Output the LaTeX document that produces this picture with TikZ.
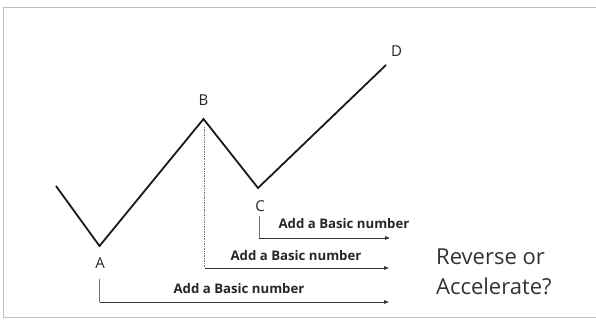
\documentclass[tikz,border=0pt]{standalone}
\usepackage{fontspec}
\setmainfont{Open Sans}
\usetikzlibrary{arrows.meta}
\begin{document}
\begin{tikzpicture}[x=1pt,y=-1pt,
  zig/.style={line width=1.8pt,line join=miter,black!90},
  tick/.style={line width=0.7pt,black!55},
  arr/.style={line width=1pt,black!80,-{Triangle[length=5pt,width=3.5pt]}},
  ptlabel/.style={font=\fontsize{15}{17}\selectfont,text=black!85,inner sep=0pt},
  addlabel/.style={font=\bfseries\fontsize{13.2}{15}\selectfont,text=black!85,inner sep=0pt},
  bigtext/.style={font=\fontsize{22}{27}\selectfont,text=black!80,inner sep=0pt,align=left}]
\useasboundingbox (0,0) rectangle (596,320);
\draw[black!25,line width=1pt] (596,7.5) -- (3.5,7.5) -- (3.5,317.5) -- (596,317.5);
% points
\coordinate (S) at (56,186);
\coordinate (A) at (99.5,246);
\coordinate (B) at (203.5,119);
\coordinate (C) at (258,188);
\coordinate (D) at (386,65);
\draw[zig] (S) -- (A) -- (B) -- (C) -- (D);
% point labels
\node[ptlabel] (lA) at (100,263) {A};
\node[ptlabel] (lB) at (203.5,100) {B};
\node[ptlabel] (lC) at (260,206) {C};
\node[ptlabel] (lD) at (396.5,51) {D};
% ticks and arrows
\coordinate (a0) at (99.5,279);
\coordinate (a1) at (99.5,302);
\coordinate (a2) at (389,302);
\coordinate (b0) at (204.5,127);
\coordinate (b1) at (204.5,268);
\coordinate (b2) at (389,268);
\coordinate (c0) at (259,216);
\coordinate (c1) at (259,238);
\coordinate (c2) at (390,238);
\draw[tick] (a0) -- (a1);
\draw[tick,densely dotted,line width=1pt] (b0) -- (b1);
\draw[tick] (c0) -- (c1);
\draw[arr] (a1) -- (a2);
\draw[arr] (b1) -- (b2);
\draw[arr] (c1) -- (c2);
% arrow labels
\node[addlabel] (tA) at (239,289) {Add a Basic number};
\node[addlabel] (tB) at (296,256) {Add a Basic number};
\node[addlabel] (tC) at (344,224) {Add a Basic number};
% question
\node[bigtext,anchor=west] (q1) at (436,257) {Reverse or};
\node[bigtext,anchor=west] (q2) at (436,286) {Accelerate?};
\end{tikzpicture}
\end{document}
